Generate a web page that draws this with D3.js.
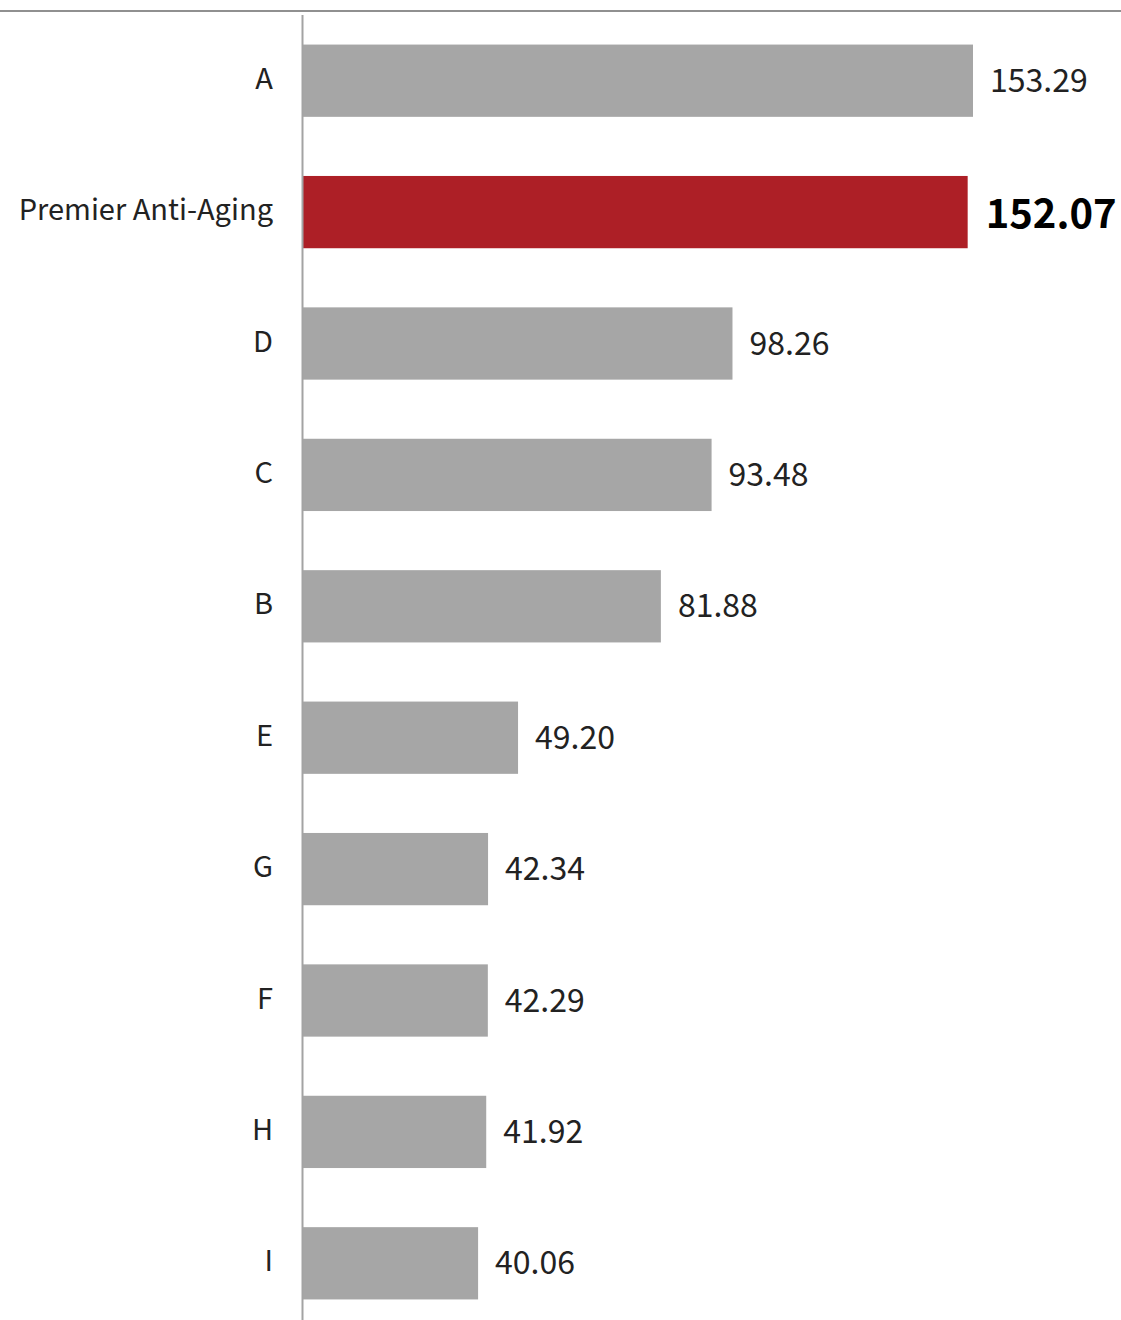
<!DOCTYPE html>
<html>
<head>
<meta charset="utf-8">
<script src="https://cdn.jsdelivr.net/npm/d3@7"></script>
<style>
  html, body { margin: 0; padding: 0; background: #fff; }
  svg { display: block; }
  text { font-family: "Noto Sans CJK JP", "Noto Sans", sans-serif; fill: #1a1a1a; }
</style>
</head>
<body>
<svg id="chart" width="1121" height="1320"></svg>
<script>
// Product names, top to bottom
const categories = ["A", "Premier Anti-Aging", "D", "C", "B", "E", "G", "F", "H", "I"];
// Score per product
const values = [153.29, 152.07, 98.26, 93.48, 81.88, 49.20, 42.34, 42.29, 41.92, 40.06];
// The featured product
const highlight = "Premier Anti-Aging";

const W = 1121, H = 1320;
const svg = d3.select("#chart");

const x = d3.scaleLinear().domain([0, 160]).range([303, 303 + 160 * (670 / 153.29)]);
const y = d3.scaleBand().domain(categories).range([15, 1329]).paddingInner(0.45).paddingOuter(0.225);

const data = categories.map((c, i) => ({ name: c, value: values[i] }));

// top rule
svg.append("line")
  .attr("x1", 0).attr("x2", W).attr("y1", 11).attr("y2", 11)
  .attr("stroke", "#6b6b6b").attr("stroke-width", 1.5);

// bars
svg.append("g").selectAll("rect").data(data).join("rect")
  .attr("x", x(0))
  .attr("y", d => y(d.name))
  .attr("width", d => x(d.value) - x(0))
  .attr("height", y.bandwidth())
  .attr("fill", d => d.name === highlight ? "#ad1f26" : "#a6a6a6");

// category axis line
svg.append("line")
  .attr("x1", 302.5).attr("x2", 302.5).attr("y1", 15).attr("y2", H)
  .attr("stroke", "#a3a3a3").attr("stroke-width", 2);

// category labels
svg.append("g").selectAll("text").data(data).join("text")
  .attr("x", 273)
  .attr("y", d => y(d.name) + y.bandwidth() / 2 - 5)
  .attr("text-anchor", "end")
  .attr("dominant-baseline", "central")
  .style("font-size", "29px")
  .style("fill", "#222")
  .text(d => d.name);

// value labels
svg.append("g").selectAll("text").data(data).join("text")
  .attr("x", d => x(d.value) + (d.name === highlight ? 18 : 17))
  .attr("y", d => y(d.name) + y.bandwidth() / 2 - (d.name === highlight ? 1 : 3))
  .attr("dominant-baseline", "central")
  .style("font-size", d => d.name === highlight ? "40px" : "32px")
  .style("font-weight", d => d.name === highlight ? "700" : "400")
  .style("fill", d => d.name === highlight ? "#000" : "#222")
  .text(d => d3.format(".2f")(d.value));
</script>
</body>
</html>
